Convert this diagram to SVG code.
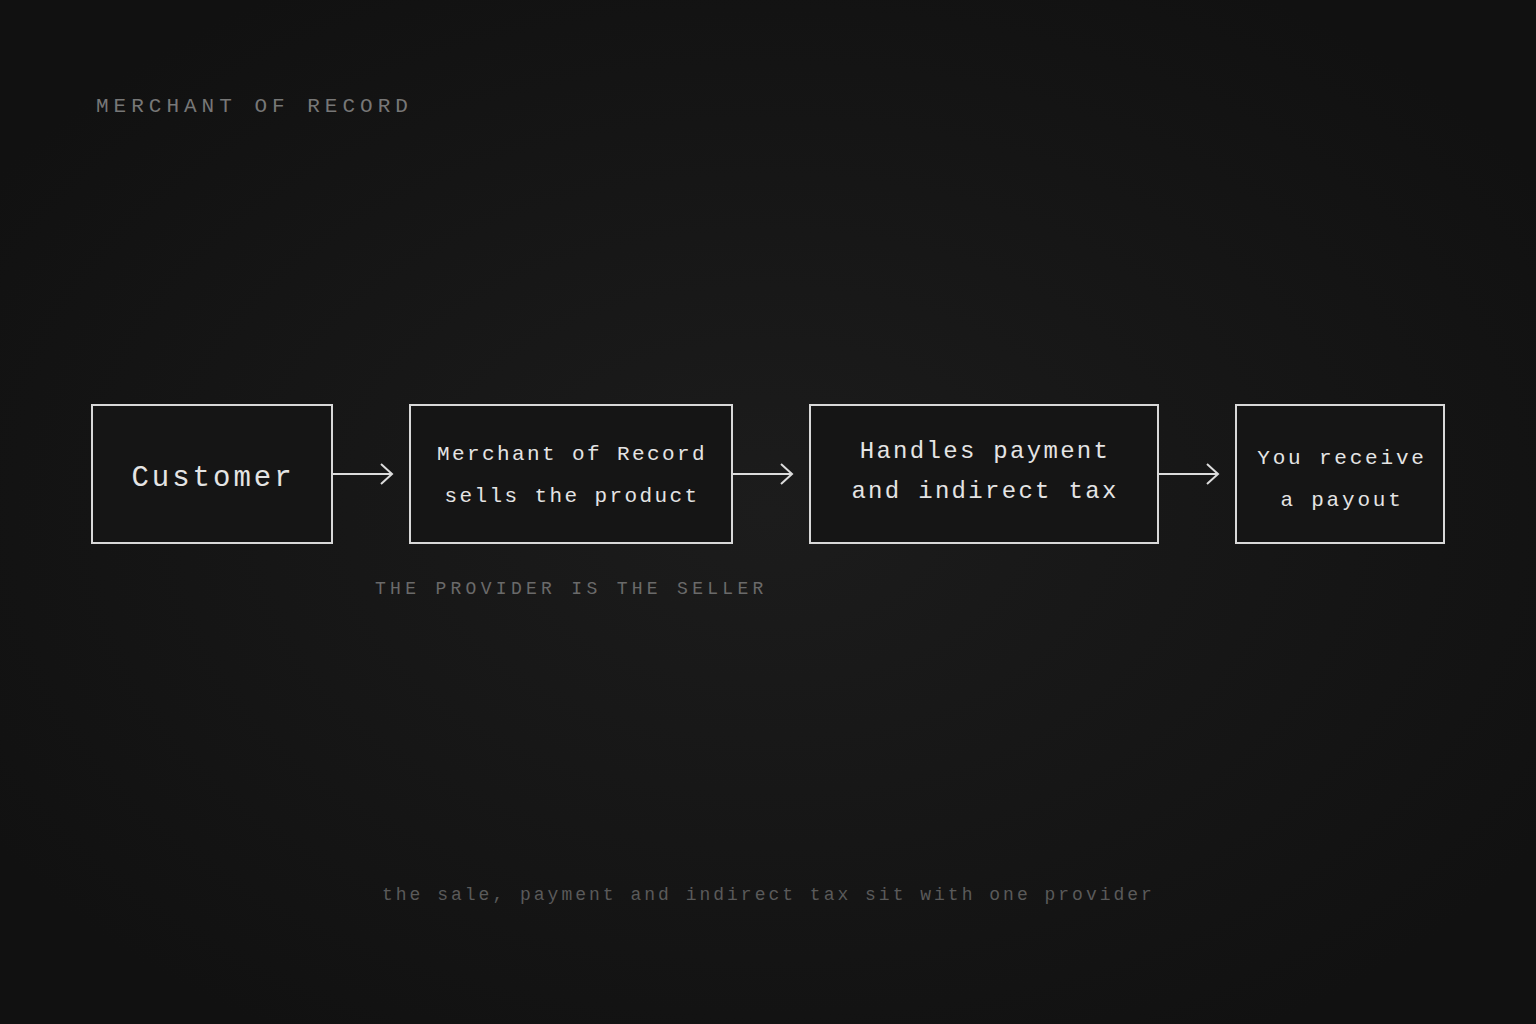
<svg xmlns="http://www.w3.org/2000/svg" width="1536" height="1024" viewBox="0 0 1536 1024">
<defs>
<radialGradient id="bg" cx="50%" cy="50%" r="60%">
<stop offset="0" stop-color="#1c1c1c"/>
<stop offset="1" stop-color="#111111"/>
</radialGradient>
<marker id="arr" viewBox="0 0 14 22" refX="12" refY="11" markerWidth="14" markerHeight="22" markerUnits="userSpaceOnUse" orient="auto">
<path d="M1,1 L12,11 L1,21" fill="none" stroke="#dcdcdc" stroke-width="2"/>
</marker>
<style>
.f{font-family:"Courier New","Nimbus Mono PS","FreeMono","Liberation Mono",monospace}
.box{fill:#151515;stroke:#d8d8d8;stroke-width:2}
.t{fill:#e4e4e4;text-anchor:middle}
.edge{stroke:#dcdcdc;stroke-width:2;fill:none}
</style>
</defs>
<rect width="1536" height="1024" fill="url(#bg)"/>
<text class="f" x="96" y="112" font-size="21" letter-spacing="5" fill="#777777">MERCHANT OF RECORD</text>
<g id="connectors">
<line class="edge" x1="333" y1="474" x2="392" y2="474" marker-end="url(#arr)"/>
<line class="edge" x1="733" y1="474" x2="792" y2="474" marker-end="url(#arr)"/>
<line class="edge" x1="1159" y1="474" x2="1218" y2="474" marker-end="url(#arr)"/>
</g>
<g id="customer">
<rect class="box" x="92" y="405" width="240" height="138"/>
<text class="f t" x="213" y="486" font-size="29" letter-spacing="3">Customer</text>
</g>
<g id="mor">
<rect class="box" x="410" y="405" width="322" height="138"/>
<text class="f t" font-size="21" letter-spacing="2.4"><tspan x="572" y="460">Merchant of Record</tspan><tspan x="572" y="502">sells the product</tspan></text>
</g>
<g id="handles">
<rect class="box" x="810" y="405" width="348" height="138"/>
<text class="f t" font-size="24" letter-spacing="2.3"><tspan x="985" y="458">Handles payment</tspan><tspan x="985" y="498">and indirect tax</tspan></text>
</g>
<g id="payout">
<rect class="box" x="1236" y="405" width="208" height="138"/>
<text class="f t" font-size="21" letter-spacing="2.8"><tspan x="1342" y="464">You receive</tspan><tspan x="1342" y="506">a payout</tspan></text>
</g>
<text class="f" x="375" y="594" font-size="18" letter-spacing="4.3" fill="#6a6a6a">THE PROVIDER IS THE SELLER</text>
<text class="f" x="382" y="900" font-size="18" letter-spacing="3" fill="#5a5a5a">the sale, payment and indirect tax sit with one provider</text>
</svg>
